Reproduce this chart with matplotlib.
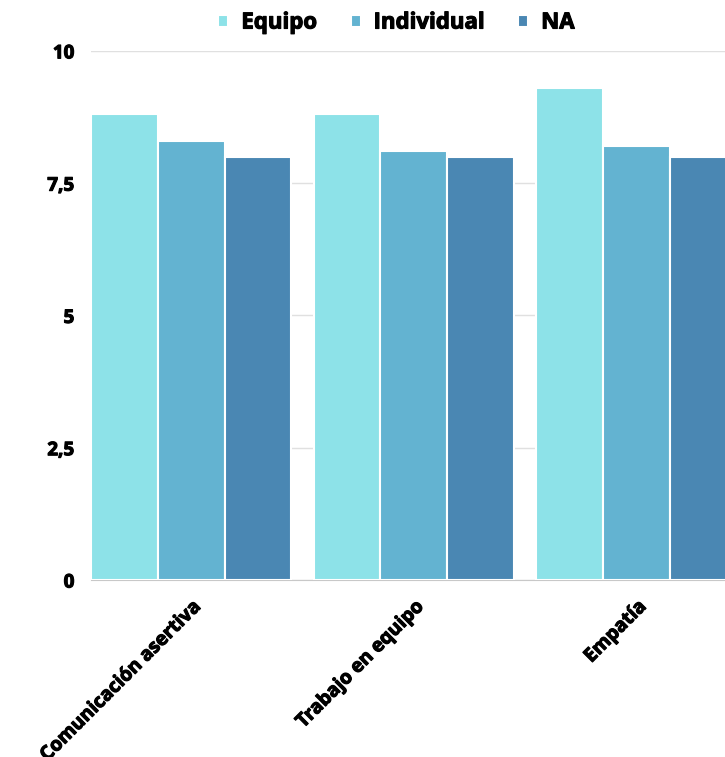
import numpy as np
import matplotlib.pyplot as plt
import matplotlib.patheffects as pe

categorias = ["Comunicación asertiva", "Trabajo en equipo", "Empatía"]
series = ["Equipo", "Individual", "NA"]
equipo = [8.8, 8.8, 9.3]
individual = [8.3, 8.1, 8.2]
na = [8.0, 8.0, 8.0]
colores = ["#8de2e8", "#63b3d1", "#4a87b3"]

plt.rcParams["font.family"] = ["Open Sans", "DejaVu Sans"]
grueso = [pe.withStroke(linewidth=0.8, foreground="black")]

fig = plt.figure(figsize=(7.25, 7.57), dpi=100)
ax = fig.add_axes([0.1255, 0.2338, 0.8745, 0.699])

x = np.arange(len(categorias))
ancho = 0.3
for i, (nombre, valores) in enumerate(zip(series, [equipo, individual, na])):
    ax.bar(x + (i - 1) * ancho, valores, ancho, color=colores[i],
           edgecolor="white", linewidth=1.5, label=nombre, zorder=3)

ax.set_xlim(-0.45, 2.397)
ax.set_ylim(0, 10)
ax.set_yticks([0, 2.5, 5, 7.5, 10])
ax.set_yticklabels(["0", "2,5", "5", "7,5", "10"], fontweight="bold", fontsize=13.5)
ax.set_xticks(x)
ax.set_xticklabels(categorias, rotation=45, ha="right", rotation_mode="anchor",
                   fontweight="bold", fontsize=13.8)
ax.tick_params(axis="both", length=0)
ax.tick_params(axis="y", pad=12)
ax.tick_params(axis="x", pad=12)
for lab in ax.get_xticklabels() + ax.get_yticklabels():
    lab.set_path_effects(grueso)
ax.grid(axis="y", color="#e0e0e0", linewidth=1, zorder=0)
for s in ["top", "right", "left"]:
    ax.spines[s].set_visible(False)
ax.spines["bottom"].set_color("#c8c8c8")

leyenda = fig.legend(loc="upper center", bbox_to_anchor=(0.547, 1.004), ncol=3, frameon=False,
                     prop={"weight": "bold", "size": 16}, handlelength=0.45, handleheight=0.45,
                     columnspacing=1.5, handletextpad=0.58, borderaxespad=0.3)
for t in leyenda.get_texts():
    t.set_path_effects(grueso)

fig.savefig("out.png", dpi=100)
